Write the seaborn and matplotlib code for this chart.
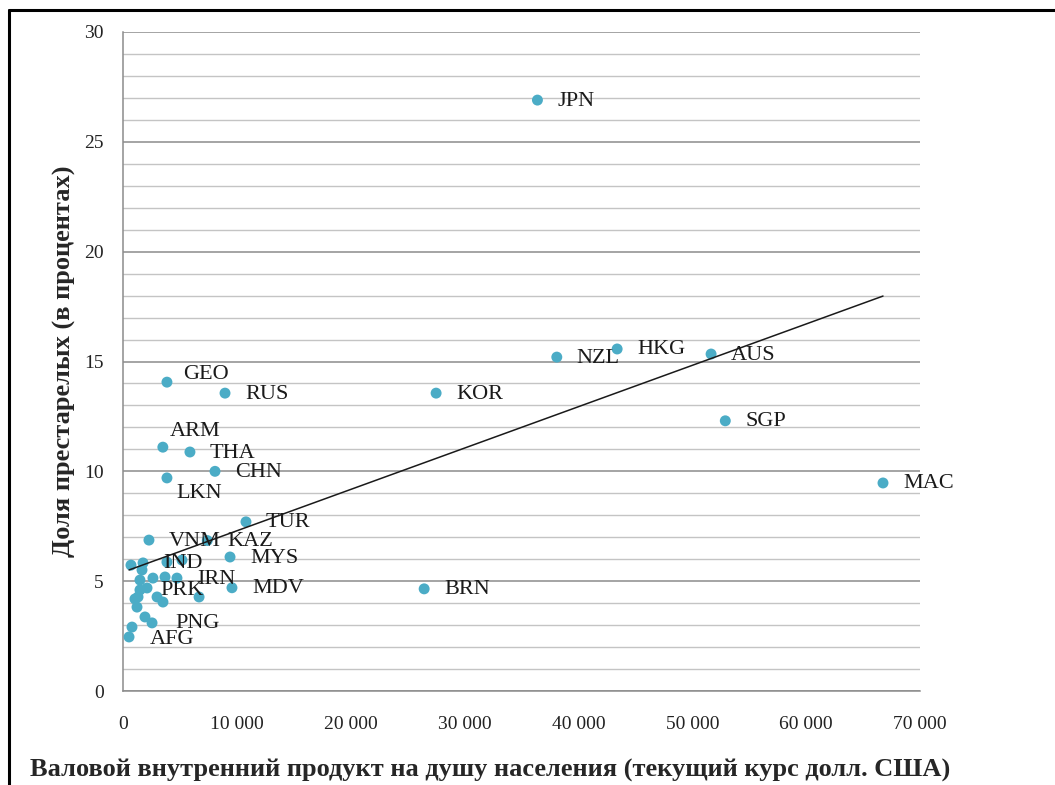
import matplotlib
matplotlib.use("Agg")
import matplotlib.pyplot as plt
from matplotlib.lines import Line2D
from matplotlib.ticker import MultipleLocator, FuncFormatter
import seaborn as sns
import pandas as pd

# labelled countries: GDP per capita (USD) and share of elderly (%)
codes = ["JPN", "HKG", "NZL", "AUS", "SGP", "MAC", "KOR", "BRN", "GEO", "RUS",
         "ARM", "THA", "CHN", "LKN", "TUR", "VNM", "KAZ", "MYS", "MDV", "IRN",
         "IND", "PRK", "PNG", "AFG"]
gdp = [36400, 43400, 38100, 51650, 52900, 66750, 27500, 26450, 3860, 8960,
       3500, 5880, 8080, 3860, 10800, 2280, 7400, 9400, 9570, 4740,
       1760, 1490, 2550, 530]
elderly = [26.9, 15.57, 15.2, 15.34, 12.3, 9.47, 13.56, 4.65, 14.06, 13.56,
           11.1, 10.88, 10.0, 9.7, 7.7, 6.87, 6.85, 6.1, 4.7, 5.14,
           5.83, 4.6, 3.1, 2.46]

# unlabelled countries in the low-income cluster
other_gdp = [700, 3860, 5180, 1490, 2630, 3690, 2110, 1320, 1050, 2990,
             3510, 6680, 1230, 1930, 790, 1670]
other_elderly = [5.73, 5.87, 5.96, 5.05, 5.14, 5.19, 4.69, 4.28, 4.19, 4.28,
                 4.05, 4.28, 3.82, 3.37, 2.91, 5.51]

# linear trend line
trend_slope = 1.883e-4
trend_intercept = 5.41

x_label = "Валовой внутренний продукт на душу населения (текущий курс долл. США)"
y_label = "Доля престарелых (в процентах)"

df = pd.DataFrame({
    "gdp": gdp + other_gdp,
    "elderly": elderly + other_elderly,
    "code": codes + [""] * len(other_gdp),
})

sns.set_style("white")
plt.rcParams["font.family"] = ["Liberation Serif", "DejaVu Serif"]

fig = plt.figure(figsize=(10.55, 7.85), dpi=100)
ax = fig.add_axes([123 / 1055, 94 / 785, 797 / 1055, 659 / 785])

# gridlines
ax.yaxis.set_major_locator(MultipleLocator(5))
ax.yaxis.set_minor_locator(MultipleLocator(1))
ax.xaxis.set_major_locator(MultipleLocator(10000))
ax.grid(which="major", axis="y", color="#8c8c8c", linewidth=1.1)
ax.grid(which="minor", axis="y", color="#c4c4c4", linewidth=1.0)
ax.set_axisbelow(True)

sns.scatterplot(data=df, x="gdp", y="elderly", ax=ax, color="#4bacc6",
                s=62, edgecolor="none", zorder=3, legend=False)

xs = [min(df["gdp"]), max(df["gdp"])]
ax.plot(xs, [trend_intercept + trend_slope * v for v in xs],
        color="#1a1a1a", linewidth=1.1, zorder=4)

# label offsets in pixels (default: right of the point)
offsets = {"GEO": (16, 8), "ARM": (7, 16), "LKN": (9, -16), "PNG": (23, -1),
           "AFG": (21, -3)}
for c, gx, ey in zip(codes, gdp, elderly):
    dx, dy = offsets.get(c, (20, -1))
    ax.annotate(c, (gx, ey), xytext=(dx, dy), textcoords="offset pixels",
                ha="left", va="center", fontsize=16, color="#1a1a1a", zorder=5)

ax.set_xlim(0, 70000)
ax.set_ylim(0, 30)
ax.xaxis.set_major_formatter(FuncFormatter(lambda v, p: f"{int(v):,}".replace(",", " ")))

for side in ["top", "right"]:
    ax.spines[side].set_visible(False)
for side in ["left", "bottom"]:
    ax.spines[side].set_color("#8c8c8c")
    ax.spines[side].set_linewidth(1.1)

ax.tick_params(axis="both", which="major", direction="out", length=6, width=1,
               color="#8c8c8c", labelsize=14, labelcolor="#222222", pad=8)
ax.tick_params(axis="y", which="minor", length=0)
ax.tick_params(axis="x", pad=12)
ax.set_xlabel("")
ax.set_ylabel(y_label, fontsize=19, fontweight="bold", labelpad=6)

fig.text(30 / 1055, 1 - 770 / 785, x_label, fontsize=19, fontweight="bold",
         ha="left", va="center")

# frame lines on the top and left edges
fig.add_artist(Line2D([9 / 1055, 1], [1 - 10 / 785, 1 - 10 / 785],
                      transform=fig.transFigure, color="black", linewidth=2.2))
fig.add_artist(Line2D([9 / 1055, 9 / 1055], [0, 1 - 10 / 785],
                      transform=fig.transFigure, color="black", linewidth=2.2))

fig.savefig("out.png", dpi=100)
plt.close(fig)
